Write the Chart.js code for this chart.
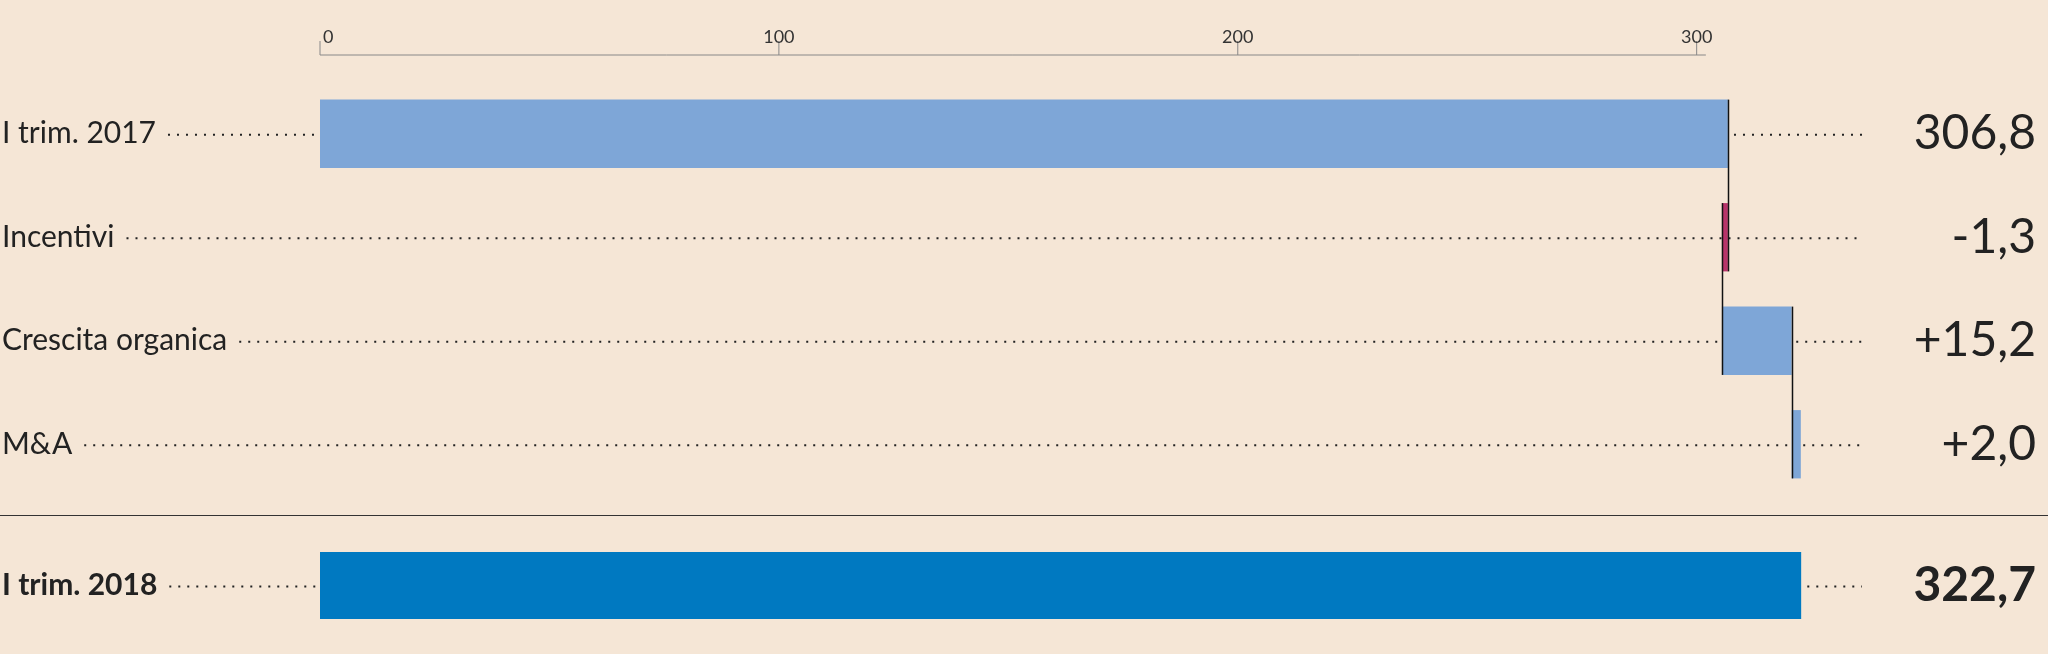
<!DOCTYPE html>
<html>
<head>
<meta charset="utf-8">
<script src="https://cdn.jsdelivr.net/npm/chart.js@4"></script>
<style>
  html, body { margin: 0; padding: 0; background: #f5e6d6; }
  #wrap { width: 2048px; height: 654px; position: relative; }
  #top { width: 2048px; height: 515px; position: relative; }
  #bottom { width: 2048px; height: 138px; position: relative; border-top: 1.5px solid #333; }
</style>
</head>
<body>
<div id="wrap">
  <div id="top"><canvas id="c-top"></canvas></div>
  <div id="bottom"><canvas id="c-bottom"></canvas></div>
</div>
<script>
// Rows of the bridge: I trim. 2017 -> I trim. 2018
const stepLabels = ["I trim. 2017", "Incentivi", "Crescita organica", "M&A"];
const stepValues = ["306,8", "-1,3", "+15,2", "+2,0"];
const stepRanges = [[0, 306.8], [305.5, 306.8], [305.5, 320.7], [320.7, 322.7]];
const stepColors = ["#7ea6d7", "#b8336a", "#7ea6d7", "#7ea6d7"];
const totalLabels = ["I trim. 2018"];
const totalValues = ["322,7"];
const totalRanges = [[0, 322.7]];
const tickValues = [0, 100, 200, 300];

const X_MAX = 360;
const FONT = "Lato, 'Open Sans', sans-serif";

// labels on the left, dotted leaders, values on the right
function rowsPlugin(values, bold, withAxis, connectors) {
  return {
    id: "rows",
    beforeDatasetsDraw(chart) {
      const ctx = chart.ctx;
      const meta = chart.getDatasetMeta(0);
      const x = chart.scales.x;
      ctx.save();
      chart.data.labels.forEach((lab, i) => {
        const y = meta.data[i].y;
        ctx.font = (bold ? "bold " : "") + "30px " + FONT;
        ctx.fillStyle = "#222";
        ctx.textBaseline = "middle";
        ctx.textAlign = "left";
        ctx.fillText(lab, 2, y);
        const w = ctx.measureText(lab).width;
        ctx.strokeStyle = "#222";
        ctx.lineWidth = 2;
        ctx.setLineDash([2, 7]);
        ctx.beginPath();
        ctx.moveTo(w + 14, y + 1);
        ctx.lineTo(1862, y + 1);
        ctx.stroke();
        ctx.setLineDash([]);
        ctx.font = (bold ? "bold " : "") + "48px " + FONT;
        ctx.textAlign = "right";
        ctx.fillText(values[i], 2036, y);
      });
      if (withAxis) {
        const yl = 55;
        ctx.strokeStyle = "#888";
        ctx.lineWidth = 1;
        ctx.beginPath();
        ctx.moveTo(x.getPixelForValue(0), yl);
        ctx.lineTo(x.getPixelForValue(302), yl);
        ctx.stroke();
        ctx.font = "18px " + FONT;
        ctx.fillStyle = "#333";
        ctx.textBaseline = "bottom";
        tickValues.forEach((t) => {
          const px = x.getPixelForValue(t);
          ctx.beginPath();
          ctx.moveTo(px, yl);
          ctx.lineTo(px, yl - 14);
          ctx.stroke();
          ctx.textAlign = t === 0 ? "left" : "center";
          ctx.fillText(String(t), t === 0 ? px + 3 : px, yl - 9);
        });
      }
      ctx.restore();
    },
    afterDatasetsDraw(chart) {
      if (!connectors) return;
      const ctx = chart.ctx;
      const meta = chart.getDatasetMeta(0);
      const x = chart.scales.x;
      ctx.save();
      ctx.strokeStyle = "#111";
      ctx.lineWidth = 1.5;
      connectors.forEach(([i, v]) => {
        const a = meta.data[i], b = meta.data[i + 1];
        const px = Math.round(x.getPixelForValue(v)) + 0.5;
        ctx.beginPath();
        ctx.moveTo(px, a.y - a.height / 2);
        ctx.lineTo(px, b.y + b.height / 2);
        ctx.stroke();
      });
      ctx.restore();
    },
  };
}

function makeChart(id, labels, ranges, colors, values, opts) {
  return new Chart(document.getElementById(id), {
    type: "bar",
    data: {
      labels,
      datasets: [{
        data: ranges,
        backgroundColor: colors,
        borderWidth: 0,
        borderSkipped: false,
        barPercentage: opts.barPct,
        categoryPercentage: 1,
      }],
    },
    options: {
      indexAxis: "y",
      responsive: true,
      maintainAspectRatio: false,
      animation: false,
      layout: { padding: { left: 320, right: 76, top: opts.top, bottom: opts.bottom } },
      plugins: { legend: { display: false }, tooltip: { enabled: false } },
      scales: {
        x: { type: "linear", min: 0, max: X_MAX, display: false },
        y: { display: false },
      },
    },
    plugins: [rowsPlugin(values, opts.bold, opts.axis, opts.connectors)],
  });
}

makeChart("c-top", stepLabels, stepRanges, stepColors, stepValues, {
  barPct: 0.66, top: 82, bottom: 19, bold: false, axis: true,
  connectors: [[0, 306.8], [1, 305.5], [2, 320.7]],
});
makeChart("c-bottom", totalLabels, totalRanges, ["#0079c1"], totalValues, {
  barPct: 1, top: 36, bottom: 35, bold: true, axis: false, connectors: null,
});
</script>
</body>
</html>
